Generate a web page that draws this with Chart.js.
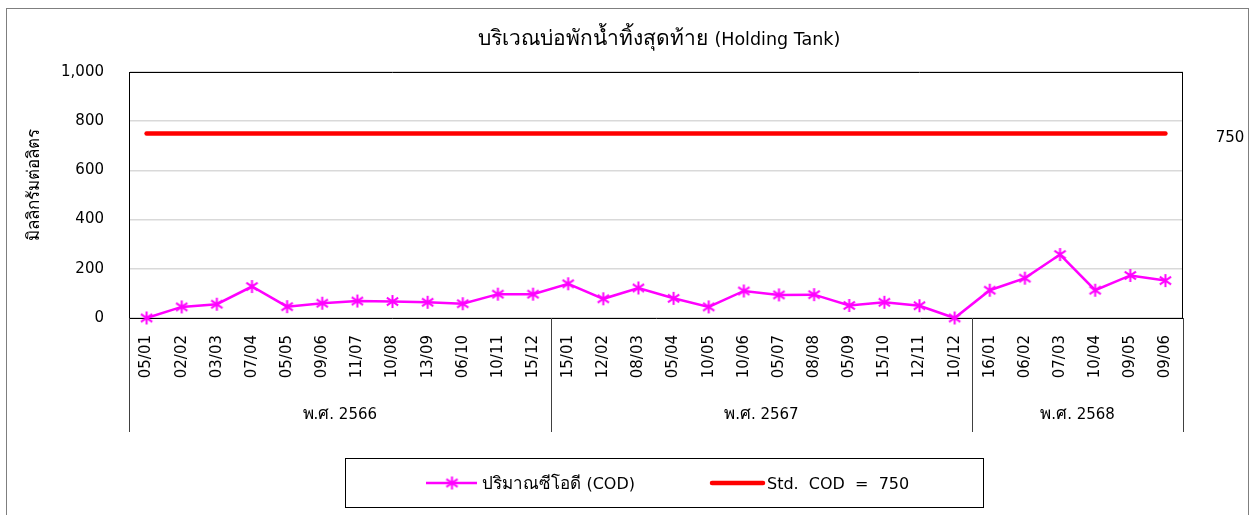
<!DOCTYPE html>
<html><head><meta charset="utf-8">
<script src="https://cdn.jsdelivr.net/npm/chart.js@4.4.1/dist/chart.umd.min.js"></script>
<style>html,body{margin:0;padding:0;background:#fff;overflow:hidden}</style>
</head><body>
<canvas id="c" width="1253" height="515"></canvas>
<script>
const chartTitle = 'บริเวณบ่อพักน้ำทิ้งสุดท้าย (Holding Tank)';
const yAxisTitle = 'มิลลิกรัมต่อลิตร';
const dates = ['05/01','02/02','03/03','07/04','05/05','09/06','11/07','10/08','13/09','06/10','10/11','15/12',
               '15/01','12/02','08/03','05/04','10/05','10/06','05/07','08/08','05/09','15/10','12/11','10/12',
               '16/01','06/02','07/03','10/04','09/05','09/06'];
const yearGroups = ['พ.ศ. 2566','พ.ศ. 2567','พ.ศ. 2568'];
const yearCounts = [12, 12, 6];
const codValues = [0,45,56,128,46,60,69,67,64,58,97,97,
                   139,78,122,80,45,110,94,95,51,64,50,0,
                   113,162,258,113,173,152];
const stdValues = [750,750,750,750,750,750,750,750,750,750,750,750,
                   750,750,750,750,750,750,750,750,750,750,750,750,
                   750,750,750,750,750,750];
const stdEndLabel = '750';
const codLegend = 'ปริมาณซีโอดี (COD)';
const stdLegend = 'Std.  COD  =  750';
const yMin = 0, yMax = 1000, yStep = 200;

const FAM = '"DejaVu Sans", "Noto Sans", sans-serif';
const MAGENTA = '#FF00FF', RED = '#FF0000';

// draw text where Thai runs use a larger size than Latin runs (baseline alphabetic)
function drawMixed(ctx, text, x, y, latinSize, thaiSize, align){
  const isThai = ch => /[\u0E00-\u0E7F]/.test(ch);
  const runs = [];
  for (const ch of text){
    const t = ch === ' ' && runs.length ? runs[runs.length-1].thai : isThai(ch);
    if (runs.length && runs[runs.length-1].thai === t) runs[runs.length-1].s += ch;
    else runs.push({thai: t, s: ch});
  }
  let total = 0;
  runs.forEach(r => { ctx.font = (r.thai ? thaiSize : latinSize) + 'px ' + FAM; r.w = ctx.measureText(r.s).width; total += r.w; });
  let cx = align === 'center' ? x - total/2 : align === 'right' ? x - total : x;
  ctx.textAlign = 'left'; ctx.textBaseline = 'alphabetic';
  runs.forEach(r => { ctx.font = (r.thai ? thaiSize : latinSize) + 'px ' + FAM; ctx.fillText(r.s, cx, y); cx += r.w; });
}

// Excel-like asterisk marker (vertical + X)
function makeStar(size){
  const c = document.createElement('canvas');
  c.width = size; c.height = size;
  const g = c.getContext('2d');
  const m = size/2, r = size/2 - 1;
  g.strokeStyle = MAGENTA; g.lineWidth = 2; g.lineCap = 'butt';
  g.beginPath();
  g.moveTo(m, m-r); g.lineTo(m, m+r);
  const dx = r*0.87, dy = r*0.6;
  g.moveTo(m-dx, m-dy); g.lineTo(m+dx, m+dy);
  g.moveTo(m-dx, m+dy); g.lineTo(m+dx, m-dy);
  g.stroke();
  return c;
}
const star = makeStar(15);

const decor = {
  id: 'decor',
  afterDraw(chart){
    const {ctx, chartArea: a, scales: {x, y}} = chart;
    ctx.save();
    // outer frame
    ctx.strokeStyle = '#7f7f7f'; ctx.lineWidth = 1;
    ctx.strokeRect(6.5, 8.5, 1242, 530);
    // plot frame top & right
    ctx.strokeStyle = '#000';
    ctx.beginPath();
    ctx.moveTo(a.left, Math.round(a.top)+0.5); ctx.lineTo(a.right, Math.round(a.top)+0.5);
    ctx.moveTo(Math.round(a.right)-0.5, a.top); ctx.lineTo(Math.round(a.right)-0.5, a.bottom);
    ctx.stroke();
    // group separators and labels
    const step = x.getPixelForValue(1) - x.getPixelForValue(0);
    let start = 0;
    ctx.strokeStyle = '#404040';
    ctx.fillStyle = '#000';
    const bounds = [x.getPixelForValue(0) - step/2];
    yearCounts.forEach((n, i) => {
      const l = x.getPixelForValue(start) - step/2;
      const r = x.getPixelForValue(start + n - 1) + step/2;
      bounds.push(r);
      drawMixed(ctx, yearGroups[i], (l + r)/2, 419, 15, 17, 'center');
      start += n;
    });
    ctx.beginPath();
    bounds.forEach(b => { const bx = Math.round(b)+0.5; ctx.moveTo(bx, a.bottom); ctx.lineTo(bx, 432); });
    ctx.stroke();
    // end label for std line
    drawMixed(ctx, stdEndLabel, 1230, y.getPixelForValue(stdValues[stdValues.length-1]) + 8, 15, 15, 'center');
    // title
    drawMixed(ctx, chartTitle, 659, 45, 17.5, 21, 'center');
    // y title
    ctx.save();
    ctx.translate(39, 185); ctx.rotate(-Math.PI/2);
    drawMixed(ctx, yAxisTitle, 0, 0, 17, 17, 'center');
    ctx.restore();
    // legend
    ctx.strokeStyle = '#000'; ctx.lineWidth = 1;
    ctx.strokeRect(345.5, 458.5, 638, 49);
    const ly = 483;
    ctx.strokeStyle = MAGENTA; ctx.lineWidth = 2.5;
    ctx.beginPath(); ctx.moveTo(426, ly); ctx.lineTo(477, ly); ctx.stroke();
    ctx.drawImage(star, 452 - star.width/2, ly - star.height/2);
    ctx.strokeStyle = RED; ctx.lineWidth = 4.5; ctx.lineCap = 'round';
    ctx.beginPath(); ctx.moveTo(712, ly); ctx.lineTo(763, ly); ctx.stroke();
    ctx.fillStyle = '#000';
    drawMixed(ctx, codLegend, 482, ly + 6, 16, 17, 'left');
    drawMixed(ctx, stdLegend, 767, ly + 6, 16, 17, 'left');
    ctx.restore();
  }
};

new Chart(document.getElementById('c'), {
  type: 'line',
  data: {
    labels: dates,
    datasets: [
      {
        label: stdLegend, data: stdValues,
        borderColor: RED, borderWidth: 4.5, borderCapStyle: 'round',
        pointRadius: 0, fill: false, tension: 0, clip: false
      },
      {
        label: codLegend, data: codValues,
        borderColor: MAGENTA, borderWidth: 2.5, backgroundColor: MAGENTA,
        pointStyle: star, pointRadius: 7, fill: false, tension: 0, clip: false
      }
    ]
  },
  options: {
    responsive: false,
    animation: false,
    events: [],
    layout: { padding: { top: 72, right: 70, left: 0, bottom: 0 } },
    plugins: { legend: { display: false }, title: { display: false }, tooltip: { enabled: false } },
    scales: {
      x: {
        offset: true,
        grid: { display: false, drawTicks: false },
        border: { display: true, color: '#000', width: 1 },
        ticks: {
          autoSkip: false, minRotation: 90, maxRotation: 90, padding: 17,
          color: '#000', font: { family: FAM, size: 15 }
        },
        afterFit(s){ s.height = 197; }
      },
      y: {
        min: yMin, max: yMax,
        grid: { color: '#d9d9d9', lineWidth: 1.5, drawTicks: false },
        border: { display: true, color: '#000', width: 1 },
        ticks: {
          stepSize: yStep, padding: 25, color: '#000',
          font: { family: FAM, size: 15 }
        },
        afterFit(s){ s.width = 129; }
      }
    }
  },
  plugins: [decor]
});
</script>
</body></html>
